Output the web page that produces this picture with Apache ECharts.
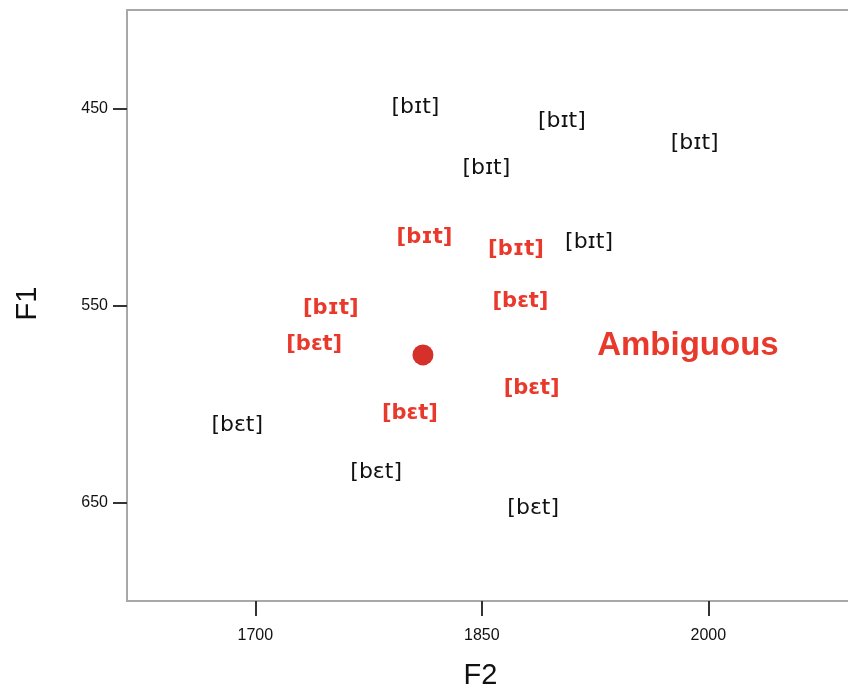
<!DOCTYPE html>
<html>
<head>
<meta charset="utf-8">
<script src="https://cdn.jsdelivr.net/npm/echarts@6/dist/echarts.min.js"></script>
<style>
html,body{margin:0;padding:0;background:#fff;}
#main{width:848px;height:688px;}
</style>
</head>
<body>
<div id="main"></div>
<script>
// tokens (black = clear, red = ambiguous)
var blackLabels = ['[bɪt]', '[bɪt]', '[bɪt]', '[bɪt]', '[bɪt]', '[bɛt]', '[bɛt]', '[bɛt]'];
var blackF2 = [1806, 1903, 1991, 1853, 1921, 1688, 1780, 1884];
var blackF1 = [449.5, 456.3, 467.5, 480.2, 517.8, 610.7, 634.5, 652.8];

var redLabels = ['[bɪt]', '[bɪt]', '[bɪt]', '[bɛt]', '[bɛt]', '[bɛt]', '[bɛt]'];
var redF2 = [1812, 1872.6, 1750, 1875.6, 1739, 1883, 1802.4];
var redF1 = [515.7, 521.8, 551.8, 548.1, 570, 592.1, 604.6];

var centerF2 = 1811, centerF1 = 575.1;
var noteText = 'Ambiguous';
var noteF2 = 1986.5, noteF1 = 570.6;

var f2Ticks = [1700, 1850, 2000];
var f1Ticks = [450, 550, 650];

var red = '#e8392c';

function pts(xs, ys, labels) {
	var out = [];
	for (var i = 0; i < xs.length; i++) {
		out.push({ value: [xs[i], ys[i]], name: labels[i] });
	}
	return out;
}

var chart = echarts.init(document.getElementById('main'));
var option = {
	backgroundColor: '#fff',
	animation: false,
	grid: {
		left: 127, top: 10, width: 761, height: 591,
		outerBoundsMode: 'none',
		containLabel: false,
		show: true, borderColor: '#a8a8a8', borderWidth: 2
	},
	xAxis: {
		type: 'value',
		min: 1615,
		max: 2119,
		name: 'F2',
		nameLocation: 'middle',
		nameGap: 60,
		// the plot runs past the right edge, so pull the name back to the visible middle
		nameTextStyle: { fontSize: 29, color: '#111', fontFamily: 'Liberation Sans', padding: [0, 54, 0, 0] },
		axisLine: { show: false },
		splitLine: { show: false },
		axisTick: {
			show: true, length: 15, customValues: f2Ticks,
			lineStyle: { color: '#333', width: 2 }
		},
		axisLabel: {
			customValues: f2Ticks, margin: 27, fontSize: 16, color: '#111',
			fontFamily: 'Liberation Sans',
			formatter: function (v) { return String(v); }
		}
	},
	yAxis: {
		type: 'value',
		inverse: true,
		min: 400,
		max: 700,
		name: 'F1',
		nameLocation: 'middle',
		nameGap: 85,
		nameRotate: 90,
		nameTextStyle: { fontSize: 29, color: '#111', fontFamily: 'Liberation Sans', padding: [0, 0, 0, 4] },
		axisLine: { show: false },
		splitLine: { show: false },
		axisTick: {
			show: true, length: 14, customValues: f1Ticks,
			lineStyle: { color: '#333', width: 2 }
		},
		axisLabel: {
			customValues: f1Ticks, margin: 19, fontSize: 16, color: '#111',
			fontFamily: 'Liberation Sans',
			formatter: function (v) { return String(v); }
		}
	},
	series: [{
		name: 'clear',
		type: 'scatter',
		symbolSize: 0,
		itemStyle: { opacity: 1 },
		data: pts(blackF2, blackF1, blackLabels),
		label: {
			show: true, position: 'inside', formatter: '{b}',
			fontSize: 22, color: '#111', fontFamily: 'DejaVu Sans'
		}
	}, {
		name: 'ambiguous',
		type: 'scatter',
		symbolSize: 0,
		itemStyle: { opacity: 1 },
		data: pts(redF2, redF1, redLabels),
		label: {
			show: true, position: 'inside', formatter: '{b}',
			fontSize: 21, fontWeight: 'bold', color: red, fontFamily: 'DejaVu Sans'
		}
	}, {
		name: 'center',
		type: 'scatter',
		symbol: 'circle',
		symbolSize: 21,
		itemStyle: { color: '#d6302a', opacity: 1 },
		data: [[centerF2, centerF1]]
	}, {
		name: 'note',
		type: 'scatter',
		symbolSize: 0,
		itemStyle: { opacity: 1 },
		data: [{ value: [noteF2, noteF1], name: noteText }],
		label: {
			show: true, position: 'inside', formatter: '{b}',
			fontSize: 33, fontWeight: 'bold', color: red, fontFamily: 'Liberation Sans'
		}
	}]
};
chart.setOption(option);
</script>
</body>
</html>
